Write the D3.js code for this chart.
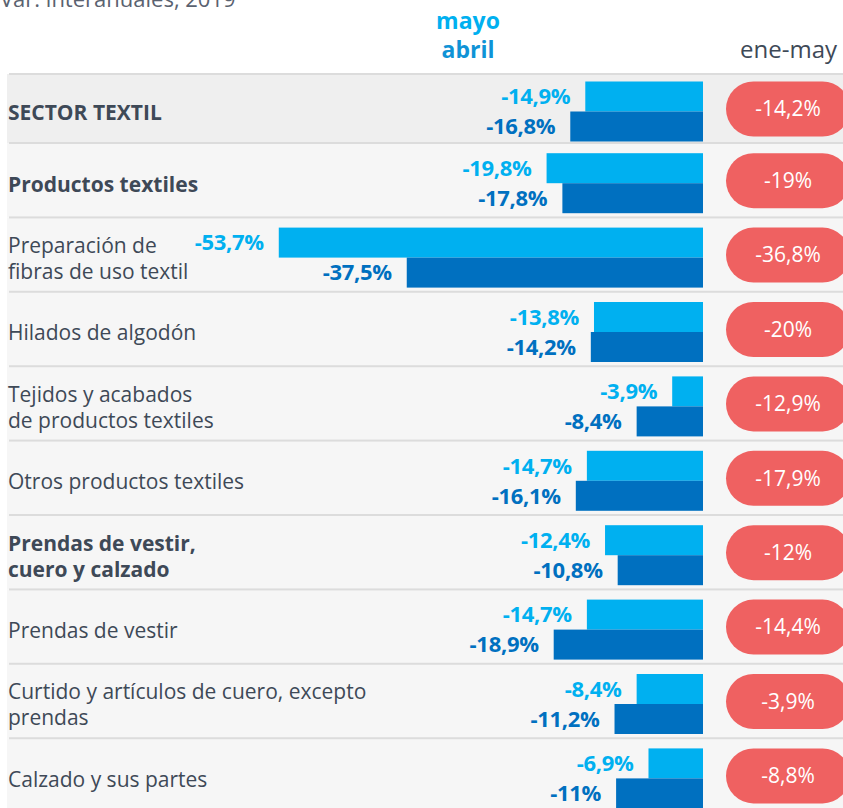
<!DOCTYPE html>
<html>
<head>
<meta charset="utf-8">
<script src="https://cdn.jsdelivr.net/npm/d3@7"></script>
<style>
  html, body { margin: 0; padding: 0; background: #ffffff; }
  svg { display: block; font-family: "Open Sans", "Noto Sans", sans-serif; }
</style>
</head>
<body>
<svg id="chart" width="843" height="808"></svg>
<script>
// ---- data ----
const categories = [
  "SECTOR TEXTIL",
  "Productos textiles",
  "Preparación de fibras de uso textil",
  "Hilados de algodón",
  "Tejidos y acabados de productos textiles",
  "Otros productos textiles",
  "Prendas de vestir, cuero y calzado",
  "Prendas de vestir",
  "Curtido y artículos de cuero, excepto prendas",
  "Calzado y sus partes"
];
const labelLines = [
  ["SECTOR TEXTIL"],
  ["Productos textiles"],
  ["Preparación de", "fibras de uso textil"],
  ["Hilados de algodón"],
  ["Tejidos y acabados", "de productos textiles"],
  ["Otros productos textiles"],
  ["Prendas de vestir,", "cuero y calzado"],
  ["Prendas de vestir"],
  ["Curtido y artículos de cuero, excepto", "prendas"],
  ["Calzado y sus partes"]
];
const boldRows = [true, true, false, false, false, false, true, false, false, false];
const mayo  = [-14.9, -19.8, -53.7, -13.8, -3.9, -14.7, -12.4, -14.7, -8.4, -6.9];
const abril = [-16.8, -17.8, -37.5, -14.2, -8.4, -16.1, -10.8, -18.9, -11.2, -11.0];
const eneMay = [-14.2, -19, -36.8, -20, -12.9, -17.9, -12, -14.4, -3.9, -8.8];
const subtitle = "Var. interanuales, 2019";
const seriesNames = ["mayo", "abril"];
const cumulativeName = "ene-may";

// ---- styles ----
const C_LIGHT = "#00b0f0", C_DARK = "#0070c0", C_ABRIL_HDR = "#0f93d6";
const C_PILL = "#ef6161", C_TEXT = "#3e4957";

const locale = d3.formatLocale({decimal: ",", thousands: ".", grouping: [3], currency: ["", "€"], minus: "-"});
const fmt = v => locale.format(".1~f")(v) + "%";

const svg = d3.select("#chart");
const W = 843, H = 808;

// rows: first (total) row is shorter
const rowTop = i => i === 0 ? 74 : 143 + (i - 1) * 74.4;
const rowH = i => i === 0 ? 69 : 74.4;

const x = d3.scaleLinear().domain([-60, 0]).range([229, 703]);
const barH = 30;

// subtitle (cut at top, as in the original)
svg.append("text").attr("x", 0).attr("y", 7)
  .attr("font-size", 22).attr("fill", "#5a6270").text(subtitle);

// headers
svg.append("text").attr("x", 468).attr("y", 29).attr("text-anchor", "middle")
  .attr("font-size", 23).attr("font-weight", 700).attr("fill", C_LIGHT).text(seriesNames[0]);
svg.append("text").attr("x", 468).attr("y", 58).attr("text-anchor", "middle")
  .attr("font-size", 23).attr("font-weight", 700).attr("fill", C_ABRIL_HDR).text(seriesNames[1]);
svg.append("text").attr("x", 837).attr("y", 58).attr("text-anchor", "end")
  .attr("font-size", 24).attr("fill", C_TEXT).text(cumulativeName);

const rows = svg.append("g");
categories.forEach((c, i) => {
  const t = rowTop(i), h = rowH(i);
  const g = rows.append("g").attr("class", "row");
  g.append("rect").attr("x", 7).attr("y", t).attr("width", W - 7).attr("height", h)
    .attr("fill", i === 0 ? "#efefef" : "#f6f6f6");
  g.append("rect").attr("x", 9).attr("y", t - 1).attr("width", W - 9).attr("height", 2)
    .attr("fill", "#dcdcdc");

  // category label
  const lines = labelLines[i];
  const lh = 26;
  const cy = t + h / 2 + 4;
  const txt = g.append("text").attr("x", 8)
    .attr("font-size", 21).attr("font-weight", boldRows[i] ? 700 : 400)
    .attr("fill", C_TEXT);
  lines.forEach((ln, k) => {
    txt.append("tspan").attr("x", 8)
      .attr("y", cy + (k - (lines.length - 1) / 2) * lh)
      .attr("dy", "0.35em").text(ln);
  });

  // bars
  const b0 = t + (h - 2 * barH) / 2 + 3;
  const vals = [mayo[i], abril[i]];
  const cols = [C_LIGHT, C_DARK];
  vals.forEach((v, k) => {
    const y0 = b0 + k * barH;
    g.append("rect").attr("x", x(v)).attr("y", y0)
      .attr("width", x(0) - x(v)).attr("height", barH).attr("fill", cols[k]);
    g.append("text").attr("x", x(v) - 15).attr("y", y0 + barH / 2)
      .attr("dy", "0.35em").attr("text-anchor", "end")
      .attr("font-size", 22).attr("font-weight", 700).attr("fill", cols[k])
      .attr("letter-spacing", "-0.3")
      .text(fmt(v));
  });

  // pill
  const pc = t + h / 2 + 0.5;
  g.append("rect").attr("x", 726).attr("y", pc - 27.5).attr("width", 124).attr("height", 55)
    .attr("rx", 27.5).attr("fill", C_PILL);
  g.append("text").attr("x", 788).attr("y", pc).attr("dy", "0.35em")
    .attr("text-anchor", "middle").attr("font-size", 21).attr("font-weight", 400)
    .attr("fill", "#ffffff")
    .text(fmt(eneMay[i]));
});
</script>
</body>
</html>
